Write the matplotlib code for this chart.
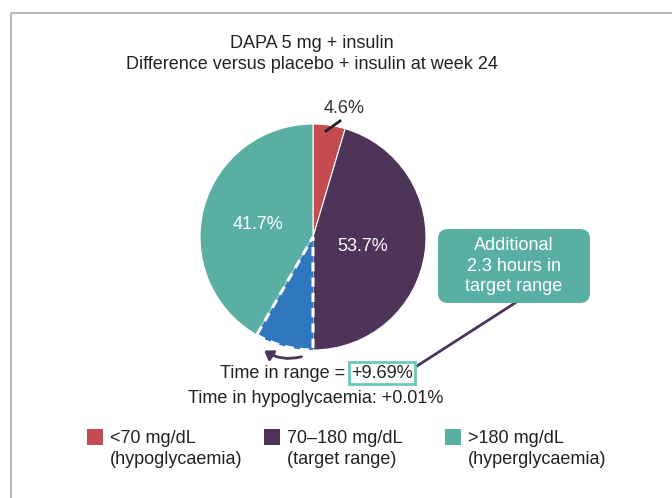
import matplotlib.pyplot as plt
from matplotlib.patches import FancyBboxPatch, FancyArrowPatch

# slice shares (%), clockwise from 12 o'clock
slice_names = ['<70', '70-180', 'extra in range', '>180']
slice_values = [4.6, 45.4, 8.3, 41.7]
slice_colors = ['#c44c50', '#4e3459', '#2f78c0', '#5aafa5']

pct_labels = ['4.6%', '53.7%', '41.7%']

legend_titles = ['<70 mg/dL\n(hypoglycaemia)', '70\u2013180 mg/dL\n(target range)', '>180 mg/dL\n(hyperglycaemia)']
legend_colors = ['#c44c50', '#4e3459', '#5aafa5']

title = 'DAPA 5 mg + insulin\nDifference versus placebo + insulin at week 24'
tir_delta = '+9.69%'
hypo_delta = '+0.01%'
callout = 'Additional\n2.3 hours in\ntarget range'

W, H = 672, 498
plt.rcParams['font.family'] = ['Liberation Sans Narrow', 'Liberation Sans', 'DejaVu Sans']

fig = plt.figure(figsize=(W / 100, H / 100), dpi=100)
ax = fig.add_axes([0, 0, 1, 1])


def Y(y):
    # convert top-based pixel row to axes coordinate
    return H - y


cx, cy, r = 313, Y(237), 113
wedges, _ = ax.pie(slice_values, colors=slice_colors, startangle=90, counterclock=False,
                   center=(cx, cy), radius=r,
                   wedgeprops=dict(linewidth=0.8, edgecolor='white'))
wedges[2].set_linestyle((0, (3, 2)))
wedges[2].set_linewidth(2.2)
wedges[2].set_zorder(3)

ax.set_xlim(0, W)
ax.set_ylim(0, H)
ax.set_aspect('equal')
ax.axis('off')

# frame lines
ax.plot([11, W], [Y(13), Y(13)], color='#b8b8b0', lw=1.5, solid_capstyle='butt')
ax.plot([11, 11], [Y(13), 0], color='#b8b8b0', lw=1.5, solid_capstyle='butt')

ax.text(312, Y(54), title, ha='center', va='center', fontsize=13, color='#222222',
        linespacing=1.3)

# slice labels
ax.text(344, Y(108), pct_labels[0], ha='center', va='center', fontsize=13, color='#333333')
ax.plot([326, 340], [Y(131), Y(121)], color='#222222', lw=2)
ax.text(363, Y(246), pct_labels[1], ha='center', va='center', fontsize=13, color='white')
ax.text(258, Y(224), pct_labels[2], ha='center', va='center', fontsize=13, color='white')

# curved arrow under the blue wedge
arrow = FancyArrowPatch((304, Y(356)), (262, Y(349)), connectionstyle='arc3,rad=-0.25',
                        arrowstyle='-|>,head_length=5,head_width=3.5', color='#4e3459', lw=2)
ax.add_patch(arrow)

ax.text(345, Y(373), 'Time in range =', ha='right', va='center', fontsize=13, color='#222222')
ax.text(382, Y(373), tir_delta, ha='center', va='center', fontsize=13, color='#222222',
        bbox=dict(boxstyle='square,pad=0.12', fc='white', ec='#6ec7ba', lw=2))
ax.text(316, Y(398), 'Time in hypoglycaemia: ' + hypo_delta, ha='center', va='center',
        fontsize=13, color='#222222')

# callout box with leader line
ax.plot([515, 417], [Y(303), Y(366)], color='#4e3459', lw=2, zorder=1)
box = FancyBboxPatch((438, Y(303)), 152, 74, boxstyle='round,pad=0,rounding_size=10',
                     fc='#5aafa5', ec='none', zorder=2)
ax.add_patch(box)
ax.text(514, Y(266), callout, ha='center', va='center', fontsize=13, color='white',
        linespacing=1.25, zorder=3)

# legend
for i, (lab, col) in enumerate(zip(legend_titles, legend_colors)):
    x0 = [87, 264, 445][i]
    ax.add_patch(plt.Rectangle((x0, Y(445)), 16, 16, fc=col, ec='none'))
    ax.text(x0 + 23, Y(449), lab, ha='left', va='center', fontsize=13, color='#222222',
            linespacing=1.3)

fig.savefig('out.png', dpi=100)
